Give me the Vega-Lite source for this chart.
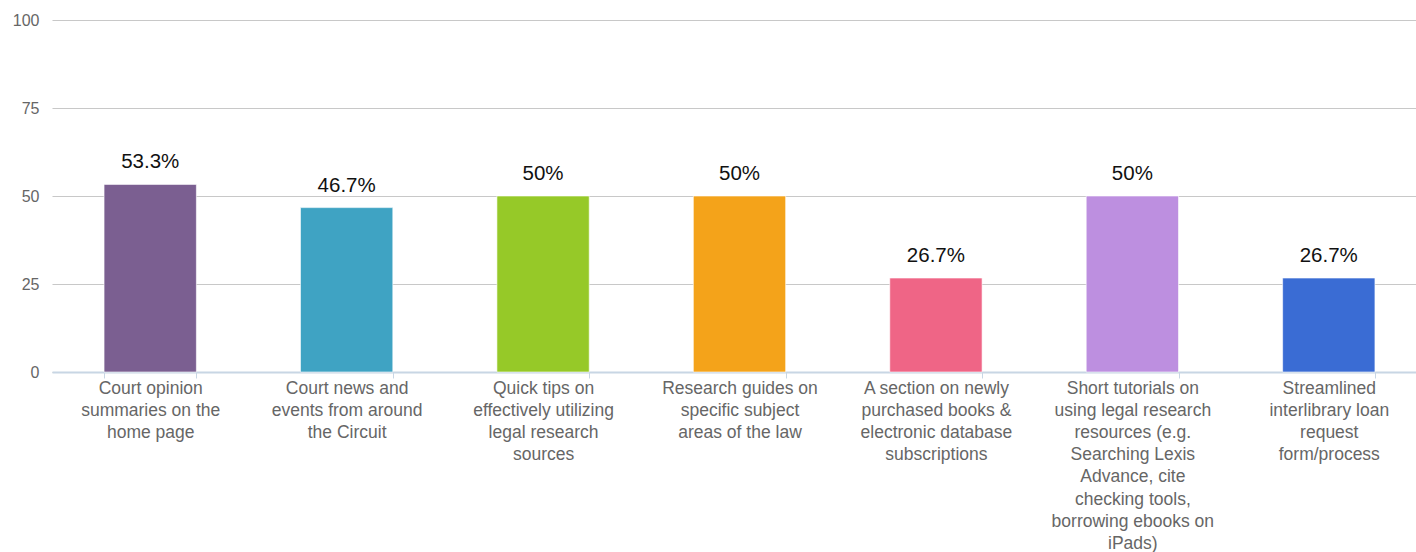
{
  "$schema": "https://vega.github.io/schema/vega-lite/v6.json",
  "autosize": {"type": "none"},
  "padding": {"left": 52, "top": 20, "right": 0, "bottom": 180},
  "width": 1375,
  "height": 352,
  "background": "white",
  "config": {
    "view": {"stroke": null},
    "font": "Liberation Sans"
  },
  "data": {
    "values": [
      {"cat": "Court opinion|summaries on the|home page", "value": 53.3, "label": "53.3%", "color": "#7b5f91"},
      {"cat": "Court news and|events from around|the Circuit", "value": 46.7, "label": "46.7%", "color": "#3fa3c3"},
      {"cat": "Quick tips on|effectively utilizing|legal research|sources", "value": 50, "label": "50%", "color": "#96c928"},
      {"cat": "Research guides on|specific subject|areas of the law", "value": 50, "label": "50%", "color": "#f4a31a"},
      {"cat": "A section on newly|purchased books &|electronic database|subscriptions", "value": 26.7, "label": "26.7%", "color": "#ef6586"},
      {"cat": "Short tutorials on|using legal research|resources (e.g.|Searching Lexis|Advance, cite|checking tools,|borrowing ebooks on|iPads)", "value": 50, "label": "50%", "color": "#bd8fe0"},
      {"cat": "Streamlined|interlibrary loan|request|form/process", "value": 26.7, "label": "26.7%", "color": "#3a6cd4"}
    ]
  },
  "encoding": {
    "x": {
      "field": "cat",
      "type": "nominal",
      "sort": null,
      "title": null,
      "scale": {"paddingInner": 0.53, "paddingOuter": 0.265},
      "axis": {
        "labelExpr": "isValid(datum.value) ? split(datum.value, '|') : ''",
        "labelAngle": 0,
        "labelAlign": "center",
        "labelBaseline": "top",
        "labelFontSize": 17.5,
        "labelColor": "#666666",
        "labelLineHeight": 22.2,
        "labelPadding": 1,
        "labelLimit": 0,
        "tickBand": "extent",
        "tickColor": "#c8d6e4",
        "tickSize": 6,
        "domainColor": "#c8d6e4",
        "domainWidth": 2,
        "grid": false
      }
    },
    "y": {
      "field": "value",
      "type": "quantitative",
      "title": null,
      "scale": {"domain": [0, 100], "nice": false},
      "axis": {
        "values": [0, 25, 50, 75, 100],
        "domain": false,
        "ticks": false,
        "labelFontSize": 16,
        "labelColor": "#666666",
        "labelPadding": 13,
        "gridColor": "#c8c8c8",
        "gridWidth": 1.2
      }
    }
  },
  "layer": [
    {
      "mark": {"type": "bar", "stroke": "#ffffff", "strokeWidth": 1, "strokeOpacity": 0.6},
      "encoding": {
        "color": {"field": "color", "type": "nominal", "scale": null, "legend": null}
      }
    },
    {
      "mark": {"type": "text", "dy": -16, "baseline": "alphabetic", "fontSize": 20.5, "color": "#111111"},
      "encoding": {
        "text": {"field": "label"}
      }
    }
  ]
}
